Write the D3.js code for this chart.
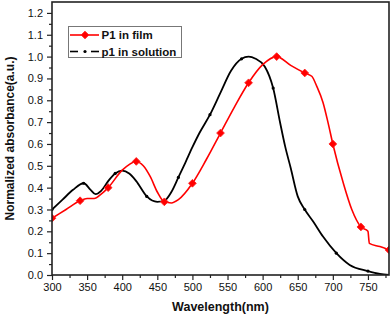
<!DOCTYPE html>
<html>
<head>
<meta charset="utf-8">
<script src="https://cdn.jsdelivr.net/npm/d3@7"></script>
<style>
  body { margin: 0; background: #fff; }
  svg { display: block; font-family: "Liberation Sans", Arial, sans-serif; }
</style>
</head>
<body>
<div id="chart"></div>
<script>
// P1 in film (red)
const filmWl  = [300, 320, 340, 350, 360, 370, 380, 400, 420, 430, 440, 450, 460, 470, 480, 500, 520, 540, 560, 580, 600, 620, 640, 660, 670, 677, 686, 693, 700, 715, 727, 740, 750, 752, 767, 780];
const filmAbs = [0.26, 0.30, 0.34, 0.35, 0.35, 0.37, 0.40, 0.48, 0.52, 0.50, 0.45, 0.38, 0.335, 0.33, 0.345, 0.42, 0.53, 0.65, 0.77, 0.88, 0.963, 1.0, 0.96, 0.925, 0.91, 0.865, 0.79, 0.70, 0.60, 0.42, 0.30, 0.22, 0.20, 0.145, 0.13, 0.115];
const filmMarks = [300, 340, 380, 420, 460, 500, 540, 580, 620, 660, 700, 740, 780];

// p1 in solution (black)
const solWl  = [300, 315, 330, 345, 355, 362, 370, 380, 390, 400, 410, 420, 435, 450, 460, 470, 480, 490, 500, 510, 525, 540, 555, 570, 580, 590, 603, 615, 625, 632, 640, 650, 660, 672, 686, 705, 724, 750, 767, 780];
const solAbs = [0.30, 0.345, 0.39, 0.42, 0.39, 0.37, 0.385, 0.43, 0.465, 0.478, 0.465, 0.43, 0.36, 0.335, 0.34, 0.38, 0.447, 0.515, 0.585, 0.65, 0.734, 0.835, 0.935, 0.99, 1.0, 0.99, 0.955, 0.856, 0.696, 0.59, 0.49, 0.36, 0.30, 0.245, 0.176, 0.10, 0.046, 0.018, 0.005, 0.0];
const solMarks = [300, 345, 390, 435, 480, 525, 570, 615, 660, 705, 750];

const xTicks = [300, 350, 400, 450, 500, 550, 600, 650, 700, 750];
const yTicks = [0.0, 0.1, 0.2, 0.3, 0.4, 0.5, 0.6, 0.7, 0.8, 0.9, 1.0, 1.1, 1.2];
const legendLabels = ["P1 in film", "p1 in solution"];

const width = 392, height = 316;
const margin = {left: 52, right: 3, top: 2, bottom: 41};

const svg = d3.select('#chart').append('svg')
    .attr('width', width)
    .attr('height', height);

const x = d3.scaleLinear().domain([300, 780]).range([margin.left, width - margin.right]);
const y = d3.scaleLinear().domain([0, 1.25]).range([height - margin.bottom, margin.top]);

const plotW = x.range()[1] - x.range()[0];
const plotH = y.range()[0] - y.range()[1];

svg.append('defs').append('clipPath').attr('id', 'clip')
  .append('rect')
    .attr('x', margin.left).attr('y', margin.top)
    .attr('width', plotW).attr('height', plotH);

// Bottom axis with minor ticks
const minorX = d3.range(300, 781, 25).filter(v => v % 50 !== 0);
svg.append('g')
    .attr('transform', `translate(0,${y(0)})`)
    .call(d3.axisBottom(x).tickValues(minorX).tickSize(3).tickFormat(''))
    .call(g => g.select('.domain').remove());
const xAxis = svg.append('g')
    .attr('transform', `translate(0,${y(0)})`)
    .call(d3.axisBottom(x).tickValues(xTicks).tickSize(5).tickPadding(3).tickFormat(d3.format('d')));
xAxis.select('.domain').remove();
xAxis.selectAll('text').style('font-size', '11px').attr('fill', '#111');

// Left axis with minor ticks
const minorY = d3.range(0.05, 1.25, 0.1);
svg.append('g')
    .attr('transform', `translate(${margin.left},0)`)
    .call(d3.axisLeft(y).tickValues(minorY).tickSize(3).tickFormat(''))
    .call(g => g.select('.domain').remove());
const yAxis = svg.append('g')
    .attr('transform', `translate(${margin.left},0)`)
    .call(d3.axisLeft(y).tickValues(yTicks).tickSize(5).tickPadding(4).tickFormat(d3.format('.1f')));
yAxis.select('.domain').remove();
yAxis.selectAll('text').style('font-size', '11px').attr('fill', '#111');

svg.selectAll('.tick line').attr('stroke', '#222').attr('stroke-width', 1.2);

// lines
const line = d3.line()
    .x(d => x(d[0]))
    .y(d => y(d[1]))
    .curve(d3.curveMonotoneX);

const solData = solWl.map((w, i) => [w, solAbs[i]]);
const filmData = filmWl.map((w, i) => [w, filmAbs[i]]);

const plot = svg.append('g').attr('clip-path', 'url(#clip)');

plot.append('path')
    .datum(solData)
    .attr('d', line)
    .attr('fill', 'none')
    .attr('stroke', '#000')
    .attr('stroke-width', 1.8);

plot.selectAll('circle.sol')
    .data(solData.filter(d => solMarks.includes(d[0])))
    .join('circle')
    .attr('class', 'sol')
    .attr('cx', d => x(d[0]))
    .attr('cy', d => y(d[1]))
    .attr('r', 1.6)
    .attr('fill', '#000');

plot.append('path')
    .datum(filmData)
    .attr('d', line)
    .attr('fill', 'none')
    .attr('stroke', '#ff0000')
    .attr('stroke-width', 1.6);

// red marker: a square turned 45 degrees
const marker = d3.symbol().type(d3.symbolSquare).size(30);
plot.selectAll('path.film')
    .data(filmData.filter(d => filmMarks.includes(d[0])))
    .join('path')
    .attr('class', 'film')
    .attr('d', marker)
    .attr('transform', d => `translate(${x(d[0])},${y(d[1])}) rotate(45)`)
    .attr('fill', '#ff0000')
    .attr('stroke', '#ff2020')
    .attr('stroke-width', 0.8);

// frame
svg.append('rect')
    .attr('x', margin.left).attr('y', margin.top)
    .attr('width', plotW).attr('height', plotH)
    .attr('fill', 'none')
    .attr('stroke', '#222')
    .attr('stroke-width', 1.6);

// legend
const legend = svg.append('g');
legend.append('rect')
    .attr('x', 68.5).attr('y', 26.5)
    .attr('width', 113).attr('height', 31)
    .attr('fill', '#fff')
    .attr('stroke', '#777')
    .attr('stroke-width', 1);

const legRows = [
  {label: legendLabels[0], color: '#ff0000', y: 35},
  {label: legendLabels[1], color: '#000', y: 51.5}
];
legRows.forEach((r, i) => {
  if (i === 0) {
    legend.append('line').attr('x1', 70).attr('x2', 99).attr('y1', r.y).attr('y2', r.y)
      .attr('stroke', r.color).attr('stroke-width', 1.6);
    legend.append('path').attr('d', marker).attr('transform', `translate(85,${r.y}) rotate(45)`)
      .attr('fill', r.color).attr('stroke', '#ff2020').attr('stroke-width', 0.8);
  } else {
    legend.append('line').attr('x1', 70).attr('x2', 78).attr('y1', r.y).attr('y2', r.y)
      .attr('stroke', r.color).attr('stroke-width', 1.6);
    legend.append('line').attr('x1', 91).attr('x2', 99).attr('y1', r.y).attr('y2', r.y)
      .attr('stroke', r.color).attr('stroke-width', 1.6);
    legend.append('circle').attr('cx', 85).attr('cy', r.y).attr('r', 1.6).attr('fill', r.color);
  }
  legend.append('text')
    .attr('x', 101.5).attr('y', r.y)
    .attr('dy', '0.35em')
    .style('font-size', '11.5px')
    .style('font-weight', 'bold')
    .attr('fill', '#111')
    .text(r.label);
});

// axis titles
svg.append('text')
    .attr('x', (x.range()[0] + x.range()[1]) / 2)
    .attr('y', 311)
    .attr('text-anchor', 'middle')
    .style('font-size', '12.5px')
    .style('font-weight', 'bold')
    .attr('fill', '#111')
    .text('Wavelength(nm)');

svg.append('text')
    .attr('transform', `translate(14,${(y.range()[0] + y.range()[1]) / 2}) rotate(-90)`)
    .attr('text-anchor', 'middle')
    .style('font-size', '12px')
    .style('font-weight', 'bold')
    .attr('fill', '#111')
    .text('Normalized absorbance(a.u.)');
</script>
</body>
</html>
